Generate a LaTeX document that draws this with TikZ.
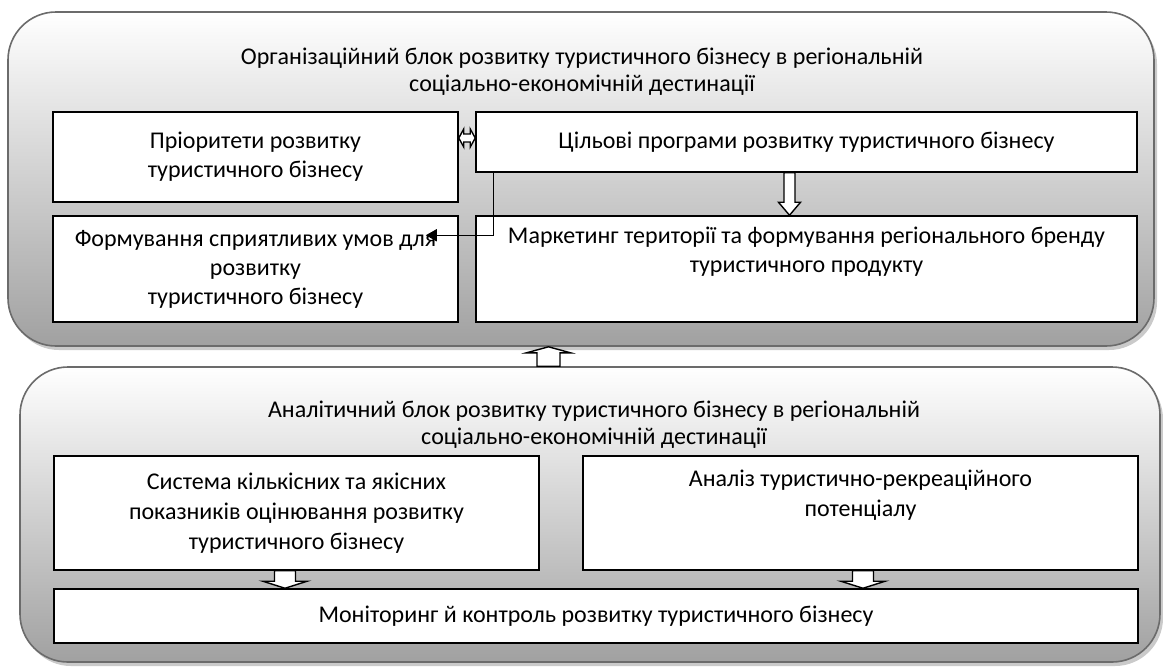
\documentclass[tikz,border=0pt]{standalone}
\usepackage{fontspec}
\setmainfont{Carlito}
\usetikzlibrary{calc,shadows,arrows.meta}
\begin{document}
\begin{tikzpicture}[x=0.5pt,y=-0.5pt,
  outer/.style={draw=black!58, line width=0.8pt, rounded corners=24pt,
    top color=white, bottom color=black!37,
    drop shadow={shadow xshift=1.5pt,shadow yshift=-2pt,opacity=0.35,fill=black!60}},
  box/.style={draw=black, line width=0.75pt, fill=white, align=center, inner sep=2pt,
    font=\fontsize{12}{14.5}\selectfont},
  boxb/.style={box, font=\fontsize{12}{15}\selectfont},
  title/.style={align=center, font=\fontsize{12}{13.5}\selectfont},
  blk/.style={draw=black, fill=white, line width=0.7pt, line join=miter},
  conn/.style={draw=black, line width=0.75pt, -{Triangle[length=5.5pt,width=6pt]}}
]
\useasboundingbox (0,0) rectangle (1163,666);

% ---------- top block ----------
\node[outer, minimum width=573pt, minimum height=167pt] (orgblk) at (581,179) {};
\node[title] (orgtitle) at (582,71.5)
  {Організаційний блок розвитку туристичного бізнесу в регіональній\\соціально-економічній дестинації};
\node[box, minimum width=202.5pt, minimum height=45pt] (pri) at (255.5,157)
  {Пріоритети розвитку\\туристичного бізнесу};
\node[box, minimum width=330.5pt, minimum height=30pt] (cil) at (806.5,142)
  {Цільові програми розвитку туристичного бізнесу};
\node[box, minimum width=202.5pt, minimum height=53pt] (form) at (255.5,269)
  {Формування сприятливих умов для\\розвитку\\туристичного бізнесу};
\node[box, minimum width=330.5pt, minimum height=53pt] (mark) at (806.5,269)
  {Маркетинг території та формування регіонального бренду\\туристичного продукту\\\strut};

% ---------- bottom block ----------
\node[outer, minimum width=570pt, minimum height=147.5pt] (anblk) at (590,514.5) {};
\node[title] (antitle) at (594,424.5)
  {Аналітичний блок розвитку туристичного бізнесу в регіональній\\соціально-економічній дестинації};
\node[boxb, minimum width=242.5pt, minimum height=57pt] (sys) at (296.5,513)
  {Система кількісних та якісних\\показників оцінювання розвитку\\туристичного бізнесу};
\node[boxb, minimum width=277.5pt, minimum height=57pt] (anal) at (860.5,513)
  {Аналіз туристично-рекреаційного\\потенціалу\\\strut};
\node[box, minimum width=542pt, minimum height=27pt] (mon) at (596,616)
  {Моніторинг й контроль розвитку туристичного бізнесу};

% ---------- block arrows ----------
% pri <-> cil
\draw[blk] let \p1=($(pri.east)+(0,-19)$), \p2=(cil.west) in
  (\x1,\y1) -- (\x1+2.5pt,\y1+4.5pt) -- (\x1+2.5pt,\y1+2pt) -- (\x2-2.5pt,\y1+2pt)
  -- (\x2-2.5pt,\y1+4.5pt) -- (\x2,\y1) -- (\x2-2.5pt,\y1-4.5pt) -- (\x2-2.5pt,\y1-2pt)
  -- (\x1+2.5pt,\y1-2pt) -- (\x1+2.5pt,\y1-4.5pt) -- cycle;
% cil -> mark
\draw[blk] let \p1=($(cil.south)+(-17,0)$), \p2=(mark.north) in
  (\x1-2.75pt,\y1) -- (\x1-2.75pt,\y2+6.5pt) -- (\x1-5.5pt,\y2+6.5pt) -- (\x1,\y2)
  -- (\x1+5.5pt,\y2+6.5pt) -- (\x1+2.75pt,\y2+6.5pt) -- (\x1+2.75pt,\y1) -- cycle;
% anblk -> orgblk
\draw[blk] let \p1=($(anblk.north)+(-41.5,0)$), \p2=(orgblk.south) in
  (\x1-5.75pt,\y1) -- (\x1-5.75pt,\y2-3pt) -- (\x1-11pt,\y2-3pt) -- (\x1,\y2)
  -- (\x1+11pt,\y2-3pt) -- (\x1+5.75pt,\y2-3pt) -- (\x1+5.75pt,\y1) -- cycle;
% sys -> mon
\draw[blk] let \p1=($(sys.south)+(-11.5,0)$), \p2=(mon.north) in
  (\x1-5.25pt,\y1) -- (\x1-5.25pt,\y2+3.5pt) -- (\x1-11pt,\y2+3.5pt) -- (\x1,\y2)
  -- (\x1+11pt,\y2+3.5pt) -- (\x1+5.25pt,\y2+3.5pt) -- (\x1+5.25pt,\y1) -- cycle;
% anal -> mon
\draw[blk] let \p1=($(anal.south)+(2.5,0)$), \p2=(mon.north) in
  (\x1-5.25pt,\y1) -- (\x1-5.25pt,\y2+3.5pt) -- (\x1-11pt,\y2+3.5pt) -- (\x1,\y2)
  -- (\x1+11pt,\y2+3.5pt) -- (\x1+5.25pt,\y2+3.5pt) -- (\x1+5.25pt,\y1) -- cycle;

% ---------- line connector ----------
\draw[conn] ($(cil.south west)+(18,0)$) |- ($(form.north east)+(-33,20)$);
\end{tikzpicture}
\end{document}
